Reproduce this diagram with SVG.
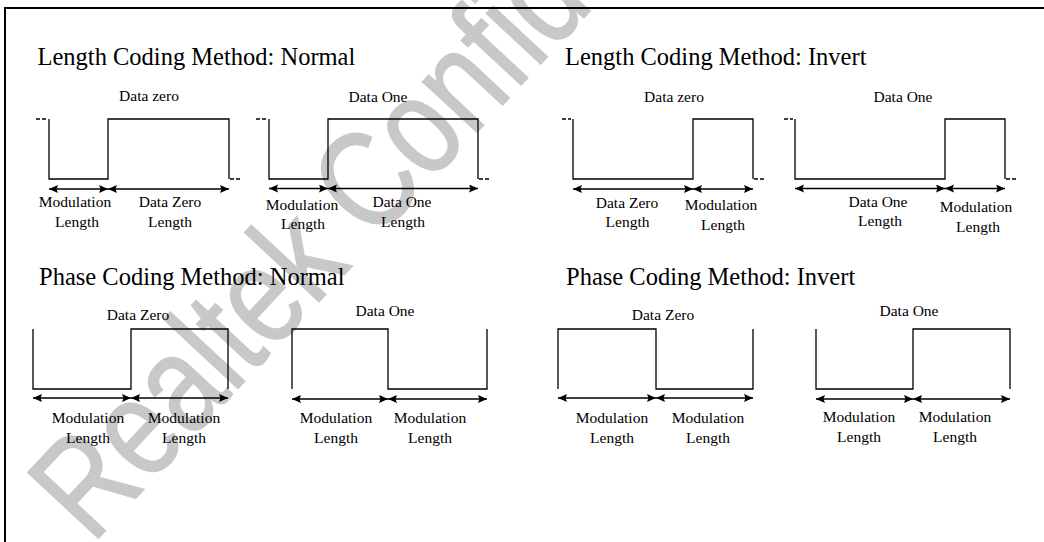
<svg xmlns="http://www.w3.org/2000/svg" width="1044" height="542" viewBox="0 0 1044 542">
<defs>
<style>
.ttl{font-family:"Liberation Serif","Times New Roman",serif;font-size:24.5px;fill:#000}
.lb{font-family:"Liberation Serif","Times New Roman",serif;font-size:15.5px;fill:#000;text-anchor:middle}
.w{fill:none;stroke:#000;stroke-width:1.3}
.d{fill:none;stroke:#000;stroke-width:1.3;stroke-dasharray:4 2}
.a{fill:none;stroke:#000;stroke-width:1.3;marker-start:url(#ah);marker-end:url(#ah)}
.wm{font-family:"Liberation Sans",Arial,sans-serif;font-size:125px;fill:#c8c8c8;stroke:#c8c8c8;stroke-width:1.5}
</style>
<marker id="ah" markerUnits="userSpaceOnUse" markerWidth="10" markerHeight="10" refX="9" refY="4" orient="auto-start-reverse">
<path d="M0,0 L9,4 L0,8 L1.5,4 z" fill="#000"/>
</marker>
</defs>
<rect width="1044" height="542" fill="#fff"/>
<g id="watermark">
<text class="wm" transform="translate(92,545) rotate(-47) scale(0.9,1.12)">Realtek Confidential</text>
</g>
<g id="frame">
<path d="M5,542 V8 H1044" fill="none" stroke="#000" stroke-width="2"/>
</g>
<g id="titles">
<text class="ttl" x="37.5" y="65">Length Coding Method: Normal</text>
<text class="ttl" x="565" y="65">Length Coding Method: Invert</text>
<text class="ttl" x="39" y="285">Phase Coding Method: Normal</text>
<text class="ttl" x="566" y="285">Phase Coding Method: Invert</text>
</g>
<g id="len-normal-zero">
<text class="lb" x="149" y="101">Data zero</text>
<path class="d" d="M36,119 H47 M230,179 H241"/>
<path class="w" d="M49,119 V179 H108 V119 H229 V179"/>
<text class="lb" x="75" y="207">Modulation</text>
<text class="lb" x="77" y="227">Length</text>
<text class="lb" x="170" y="207">Data Zero</text>
<text class="lb" x="170" y="227">Length</text>
</g>
<g id="len-normal-one">
<text class="lb" x="378" y="102">Data One</text>
<path class="d" d="M256,119 H267 M479,179 H490"/>
<path class="w" d="M269,119 V179 H328 V119 H478 V179"/>
<text class="lb" x="302" y="210">Modulation</text>
<text class="lb" x="303" y="229">Length</text>
<text class="lb" x="402" y="207">Data One</text>
<text class="lb" x="403" y="227">Length</text>
</g>
<g id="len-invert-zero">
<text class="lb" x="674" y="102">Data zero</text>
<path class="d" d="M562,119 H571 M754,179 H766"/>
<path class="w" d="M573,119 V179 H693 V119 H753 V179"/>
<text class="lb" x="627" y="208">Data Zero</text>
<text class="lb" x="627.5" y="227">Length</text>
<text class="lb" x="721" y="210">Modulation</text>
<text class="lb" x="723" y="230">Length</text>
</g>
<g id="len-invert-one">
<text class="lb" x="903" y="102">Data One</text>
<path class="d" d="M784,119 H793 M1006,179 H1018"/>
<path class="w" d="M795,119 V179 H945 V119 H1005 V179"/>
<text class="lb" x="878" y="207">Data One</text>
<text class="lb" x="880" y="226">Length</text>
<text class="lb" x="976" y="212">Modulation</text>
<text class="lb" x="978" y="232">Length</text>
</g>
<g id="phase-normal-zero">
<text class="lb" x="138" y="320">Data Zero</text>
<path class="w" d="M33,329 V389 H131 V329 H228 V389"/>
<text class="lb" x="88" y="423">Modulation</text>
<text class="lb" x="88" y="443">Length</text>
<text class="lb" x="184" y="423">Modulation</text>
<text class="lb" x="184" y="443">Length</text>
</g>
<g id="phase-normal-one">
<text class="lb" x="385" y="316">Data One</text>
<path class="w" d="M292,389 V329 H388 V389 H487 V329"/>
<text class="lb" x="336" y="423">Modulation</text>
<text class="lb" x="336" y="443">Length</text>
<text class="lb" x="430" y="423">Modulation</text>
<text class="lb" x="430" y="443">Length</text>
</g>
<g id="phase-invert-zero">
<text class="lb" x="663" y="320">Data Zero</text>
<path class="w" d="M558,389 V329 H656 V389 H753 V329"/>
<text class="lb" x="612" y="423">Modulation</text>
<text class="lb" x="612" y="443">Length</text>
<text class="lb" x="708" y="423">Modulation</text>
<text class="lb" x="708" y="443">Length</text>
</g>
<g id="phase-invert-one">
<text class="lb" x="909" y="316">Data One</text>
<path class="w" d="M816,329 V389 H913 V329 H1010 V389"/>
<text class="lb" x="859" y="422">Modulation</text>
<text class="lb" x="859" y="442">Length</text>
<text class="lb" x="955" y="422">Modulation</text>
<text class="lb" x="955" y="442">Length</text>
</g>
<g id="connectors">
<path class="a" d="M49,189 H108"/>
<path class="a" d="M108,189 H229"/>
<path class="a" d="M269,188.5 H328"/>
<path class="a" d="M328,188.5 H478"/>
<path class="a" d="M573,189 H693"/>
<path class="a" d="M693,189 H753"/>
<path class="a" d="M795,188.5 H945"/>
<path class="a" d="M945,188.5 H1005"/>
<path class="a" d="M33,398 H131"/>
<path class="a" d="M131,398 H228"/>
<path class="a" d="M292,399 H388"/>
<path class="a" d="M388,399 H487"/>
<path class="a" d="M558,398 H656"/>
<path class="a" d="M656,398 H753"/>
<path class="a" d="M816,399 H913"/>
<path class="a" d="M913,399 H1010"/>
</g>
</svg>
